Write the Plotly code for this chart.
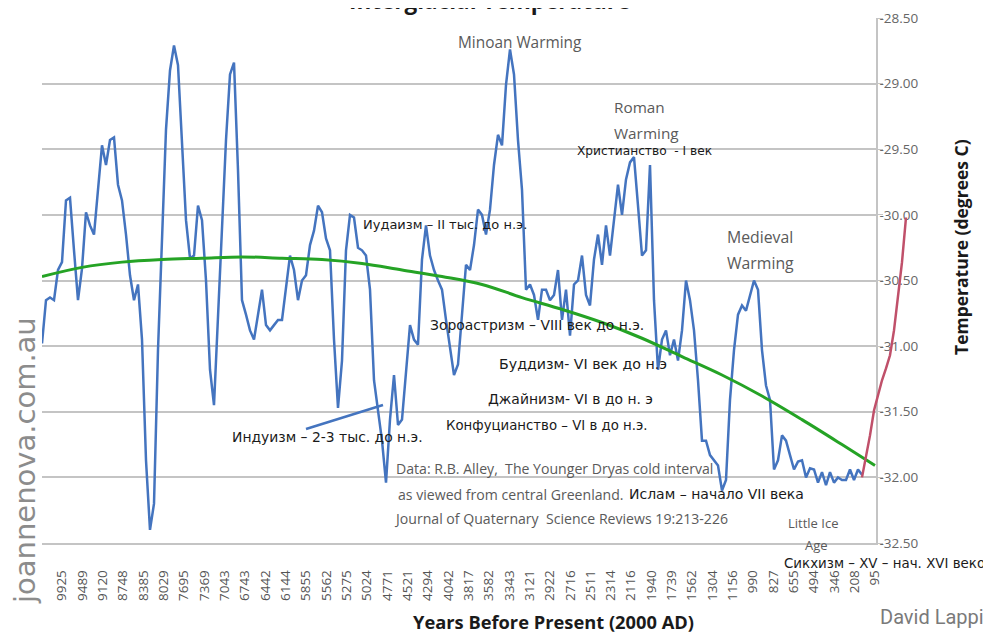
import plotly.graph_objects as go

# ---------------- data ----------------
# x axis: category axis with labels (years before present, 2000 AD)
tick_labels = ["9925", "9489", "9120", "8748", "8385", "8029", "7695", "7369", "7043", "6743",
               "6442", "6144", "5855", "5562", "5275", "5024", "4771", "4521", "4294", "4042",
               "3817", "3582", "3343", "3121", "2922", "2716", "2511", "2314", "2116", "1940",
               "1739", "1562", "1304", "1156", "990", "827", "655", "494", "346", "208", "95"]

# GISP2 temperature (deg C), one value per sample along the category axis
blue_temp = [
    -30.98, -30.65, -30.63, -30.65, -30.42, -30.36, -29.89, -29.87, -30.27, -30.65,
    -30.41, -29.98, -30.08, -30.15, -29.81, -29.47, -29.62, -29.43, -29.41, -29.77,
    -29.89, -30.15, -30.46, -30.65, -30.53, -30.95, -31.87, -32.40, -32.20, -31.03,
    -30.19, -29.35, -28.90, -28.71, -28.86, -29.43, -30.04, -30.33, -30.31, -29.93,
    -30.04, -30.50, -31.18, -31.45, -30.80, -30.19, -29.43, -28.93, -28.84, -29.66,
    -30.65, -30.76, -30.88, -30.95, -30.76, -30.57, -30.84, -30.88, -30.84, -30.80,
    -30.80, -30.53, -30.31, -30.42, -30.65, -30.50, -30.46, -30.23, -30.12, -29.93,
    -29.98, -30.18, -30.27, -30.95, -31.47, -31.11, -30.27, -30.00, -30.02, -30.25,
    -30.27, -30.31, -30.57, -31.26, -31.49, -31.72, -32.04, -31.56, -31.22, -31.60,
    -31.56, -31.22, -30.84, -30.95, -30.99, -30.34, -30.08, -30.31, -30.42, -30.50,
    -30.57, -30.80, -31.03, -31.22, -31.14, -30.76, -30.38, -30.42, -30.23, -29.96,
    -30.00, -30.15, -29.96, -29.62, -29.39, -29.47, -29.01, -28.74, -28.93, -29.43,
    -29.81, -30.57, -30.53, -30.61, -30.80, -30.57, -30.57, -30.65, -30.61, -30.42,
    -30.80, -30.57, -30.92, -30.53, -30.50, -30.31, -30.61, -30.69, -30.34, -30.15,
    -30.38, -30.08, -30.31, -30.04, -29.77, -30.00, -29.73, -29.60, -29.56, -29.93,
    -30.31, -30.27, -29.62, -30.65, -31.18, -30.95, -30.88, -31.07, -30.95, -31.11,
    -30.88, -30.50, -30.65, -30.88, -31.26, -31.72, -31.72, -31.83, -31.87, -31.91,
    -32.10, -32.02, -31.41, -31.03, -30.76, -30.69, -30.73, -30.61, -30.50, -30.57,
    -31.03, -31.30, -31.41, -31.94, -31.87, -31.68, -31.72, -31.83, -31.94, -31.88,
    -31.87, -32.00, -31.93, -31.94, -32.04, -31.96, -32.06, -31.96, -32.04, -32.00,
    -32.02, -32.02, -31.94, -32.02, -31.94, -31.98,
]

# modern (red) segment, continuing after the last blue sample
red_start = 205
red_temp = [-32.00, -31.85, -31.68, -31.49, -31.37, -31.26, -31.17, -31.07, -30.88, -30.61, -30.36, -30.02]

# polynomial trend (green)
green_pos = [0, 10, 20, 30, 40, 50, 60, 70, 80, 90, 100, 110, 120, 130, 140, 150, 160, 170, 180, 190, 200, 208.25]
green_temp = [-30.47, -30.40, -30.36, -30.34, -30.33, -30.32, -30.33, -30.34, -30.37, -30.42, -30.47,
              -30.53, -30.63, -30.72, -30.82, -30.94, -31.08, -31.22, -31.38, -31.56, -31.75, -31.91]

y_ticks = [-28.5, -29.0, -29.5, -30.0, -30.5, -31.0, -31.5, -32.0, -32.5]

# ---------------- layout geometry (pixels, page coordinates) ----------------
W, H = 991, 638
BODY = 8                               # default page margin of the html body
PL, PR_MAIN, PR_EXT = 42, 876, 925     # plot left, main axis x, extended area right
PT, PB = 18, 543                       # plot top, plot bottom
PX_PER_SAMPLE = 4.0
x_max = (PR_MAIN - PL) / PX_PER_SAMPLE
x2_max = x_max + (PR_EXT - PR_MAIN) / PX_PER_SAMPLE
split = (PR_MAIN - PL) / (PR_EXT - PL)
tick_step = (x_max - 5.25) / 40
tick_pos = [5 + i * tick_step for i in range(len(tick_labels))]


def px(x, y):
    return (x - PL) / (PR_EXT - PL), (PB - y) / (PB - PT)


BLUE = "#4474bf"
GREEN = "#25a325"
RED = "#c0506a"
GRID = "#c4c4c4"
RU = "DejaVu Sans, sans-serif"
GRAYF = "Open Sans, sans-serif"

blue_x = list(range(len(blue_temp)))
red_x = [red_start + i for i in range(len(red_temp))]

fig = go.Figure()
fig.add_trace(go.Scatter(x=blue_x, y=blue_temp, mode="lines", line=dict(color=BLUE, width=2.5),
                         xaxis="x", yaxis="y", showlegend=False))
fig.add_trace(go.Scatter(x=green_pos, y=green_temp, mode="lines", line=dict(color=GREEN, width=3, shape="spline"),
                         xaxis="x", yaxis="y", showlegend=False))
fig.add_trace(go.Scatter(x=red_x, y=red_temp, mode="lines", line=dict(color=RED, width=2.5),
                         xaxis="x", yaxis="y", showlegend=False))
# same red series, continued past the right axis
fig.add_trace(go.Scatter(x=red_x, y=red_temp, mode="lines", line=dict(color=RED, width=2.5),
                         xaxis="x2", yaxis="y2", showlegend=False))

ann = []


def add_text(text, x, y, size=14.0, color="#1a1a1a", xanchor="center", family=RU, angle=0, bold=False):
    xp, yp = px(x, y)
    if bold:
        text = "<b>" + text + "</b>"
    ann.append(dict(text=text, x=xp, y=yp, xref="paper", yref="paper", showarrow=False,
                    xanchor=xanchor, yanchor="middle", textangle=angle,
                    font=dict(size=size, color=color, family=family)))


GRAY_T = "#5a5a5a"
add_text("Interglacial Temperature", 490, 1, size=22.5, color="#1a1a1a", bold=True, family=GRAYF)
add_text("Minoan Warming", 520, 42, size=15.4, color=GRAY_T, family=GRAYF)
add_text("Roman", 639, 107, size=15.3, color=GRAY_T, family=GRAYF)
add_text("Warming", 646, 133, size=15.3, color=GRAY_T, family=GRAYF)
add_text("Medieval", 760, 237, size=15.8, color=GRAY_T, family=GRAYF)
add_text("Warming", 760, 263, size=15.8, color=GRAY_T, family=GRAYF)
add_text("Little Ice", 813, 523, size=13, color=GRAY_T, family=GRAYF)
add_text("Age", 816, 545, size=13, color=GRAY_T, family=GRAYF)
add_text("Data: R.B. Alley,  The Younger Dryas cold interval", 394, 468, size=14.1, color=GRAY_T,
         xanchor="left", family=GRAYF)
add_text("as viewed from central Greenland.", 396, 494, size=14.1, color=GRAY_T, xanchor="left", family=GRAYF)
add_text("Journal of Quaternary  Science Reviews 19:213-226", 392, 518, size=14.1, color=GRAY_T,
         xanchor="left", family=GRAYF)

add_text("Христианство  - I век", 644, 151, size=12.2)
add_text("Иудаизм – II тыс. до н.э.", 445, 224, size=13.0)
add_text("Зороастризм – VIII век до н.э.", 537, 325, size=13.9)
add_text("Буддизм- VI век до н.э", 583, 364, size=14.2)
add_text("Джайнизм- VI в до н. э", 570, 399, size=13.9)
add_text("Конфуцианство – VI в до н.э.", 546, 425, size=13.3)
add_text("Индуизм – 2-3 тыс. до н.э.", 327, 437, size=13.9)
add_text("Ислам – начало VII века", 716, 494, size=14.0)
add_text("Сикхизм – XV – нач. XVI веко", 884, 563, size=13.4)

add_text("Temperature (degrees C)", 961, 247, size=17.5, color="#1a1a1a", angle=-90, bold=True, family=GRAYF)
add_text("Years Before Present (2000 AD)", 553, 621, size=18.3, color="#1a1a1a", bold=True, family=GRAYF)
add_text("joannenova.com.au", 25, 461, size=29, color="#8c8c8c", angle=-90, family=RU)
add_text("David Lappi", 986, 617, size=20, color="#7a7a7a", xanchor="right", family="Roboto, sans-serif")

shapes = []
# pointer under the Hinduism label
x0, y0 = px(306, 429)
x1, y1 = px(383, 405)
shapes.append(dict(type="line", xref="paper", yref="paper", x0=x0, y0=y0, x1=x1, y1=y1,
                   line=dict(color=BLUE, width=2.5)))

fig.update_layout(
    width=W - BODY, height=H - BODY,
    margin=dict(l=PL - BODY, r=W - PR_EXT, t=PT - BODY, b=H - PB, autoexpand=False),
    paper_bgcolor="white", plot_bgcolor="white",
    showlegend=False,
    xaxis=dict(domain=[0, split], range=[0, x_max], tickmode="array", tickvals=tick_pos, ticktext=tick_labels,
               tickangle=-90, tickfont=dict(size=13.5, color="#555", family=GRAYF), ticks="",
               ticklabelstandoff=20, showgrid=False, zeroline=False, showline=True, linecolor=GRID,
               linewidth=1.5, anchor="y", automargin=False),
    yaxis=dict(domain=[0, 1], range=[-32.5, -28.5], side="right", anchor="x", tickmode="array",
               tickvals=y_ticks, ticktext=["%.2f" % v for v in y_ticks],
               tickfont=dict(size=13.5, color="#666", family=GRAYF), ticks="outside", ticklen=5,
               tickcolor=GRID, ticklabelstandoff=-6, automargin=False,
               showgrid=True, gridcolor=GRID, gridwidth=1.5, zeroline=False, showline=True,
               linecolor=GRID, linewidth=1.5),
    xaxis2=dict(domain=[split, 1], range=[x_max, x2_max], visible=False, anchor="y2", automargin=False),
    yaxis2=dict(domain=[0, 1], range=[-32.5, -28.5], visible=False, anchor="x2", automargin=False),
    annotations=ann,
    shapes=shapes,
)

fig.write_html("out.html")
